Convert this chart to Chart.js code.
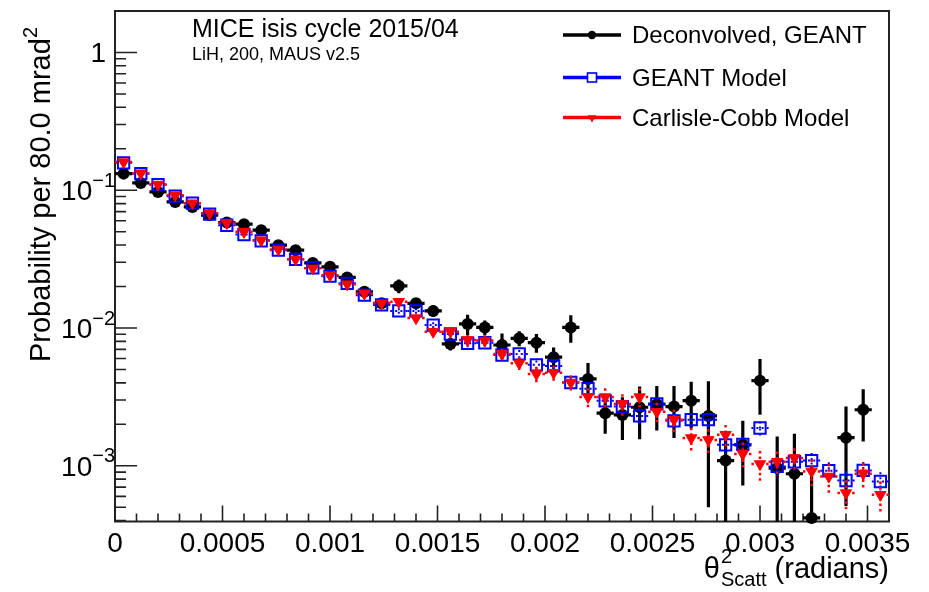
<!DOCTYPE html>
<html>
<head>
<meta charset="utf-8">
<title>MICE LiH scattering, theta^2 distribution</title>
<script src="https://cdn.jsdelivr.net/npm/chart.js@4.4.1/dist/chart.umd.min.js"></script>
<style>
  html, body { margin: 0; padding: 0; background: #ffffff; }
  canvas { display: block; }
</style>
</head>
<body>
<canvas id="chart" width="929" height="592"></canvas>
<script>
// theta^2 bin centres in rad^2 (80 mrad^2 bins)
const binCenters = [
  0.00004, 0.00012, 0.00020, 0.00028, 0.00036, 0.00044, 0.00052, 0.00060, 0.00068, 0.00076,
  0.00084, 0.00092, 0.00100, 0.00108, 0.00116, 0.00124, 0.00132, 0.00140, 0.00148, 0.00156,
  0.00164, 0.00172, 0.00180, 0.00188, 0.00196, 0.00204, 0.00212, 0.00220, 0.00228, 0.00236,
  0.00244, 0.00252, 0.00260, 0.00268, 0.00276, 0.00284, 0.00292, 0.00300, 0.00308, 0.00316,
  0.00324, 0.00332, 0.00340, 0.00348, 0.00356
];
const binHalfWidth = 0.00004;

// Deconvolved data (GEANT response)
const deconvolved = [
  0.132, 0.113, 0.0972, 0.0823, 0.0757, 0.0659, 0.0583, 0.0567, 0.0513, 0.0399,
  0.0367, 0.0297, 0.0278, 0.0233, 0.0183, 0.0151, 0.0202, 0.0151, 0.0133, 0.00766,
  0.0107, 0.0101, 0.00753, 0.00842, 0.00782, 0.00614, 0.0101, 0.00427, 0.00241, 0.00234,
  0.00266, 0.0028, 0.00269, 0.00297, 0.0023, 0.00109, 0.00142, 0.00415, 0.000962, 0.000875,
  0.000418, null, 0.0016, 0.00255, null
];
const deconvolvedErr = [
  0.003, 0.003, 0.003, 0.0025, 0.0025, 0.0025, 0.0025, 0.0025, 0.0025, 0.002,
  0.002, 0.0018, 0.0018, 0.0016, 0.0012, 0.0013, 0.0023, 0.0014, 0.0013, 0.0008,
  0.0018, 0.00126, 0.0016, 0.00105, 0.00121, 0.00107, 0.0023, 0.0013, 0.0007, 0.0008,
  0.0011, 0.001, 0.0011, 0.0011, 0.0018, 0.0007, 0.0007, 0.0018, 0.00067, 0.00083,
  0.00057, null, 0.00109, 0.00105, null
];

// GEANT model
const geantModel = [
  0.158, 0.132, 0.110, 0.0905, 0.0805, 0.0670, 0.0557, 0.0477, 0.0429, 0.0367,
  0.0315, 0.0273, 0.0238, 0.0211, 0.0173, 0.0147, 0.0133, 0.0133, 0.0105, 0.00905,
  0.00775, 0.00782, 0.00637, 0.00648, 0.0054, 0.00531, 0.00402, 0.00363, 0.00296, 0.00269,
  0.0023, 0.00281, 0.00212, 0.00216, 0.00216, 0.00142, 0.00143, 0.00188, 0.000989, 0.00107,
  0.00109, 0.00092, 0.000782, 0.000925, 0.000769
];
const geantModelErr = [
  0.002, 0.002, 0.0018, 0.0016, 0.0015, 0.0013, 0.0012, 0.0011, 0.001, 0.0009,
  0.0008, 0.0008, 0.0007, 0.0007, 0.0006, 0.0006, 0.0006, 0.0006, 0.0005, 0.0005,
  0.0005, 0.0005, 0.00045, 0.00045, 0.0004, 0.0004, 0.00035, 0.00035, 0.0003, 0.0003,
  0.0003, 0.0003, 0.00025, 0.00025, 0.00025, 0.0002, 0.0002, 0.00022, 0.00015, 0.00015,
  0.00015, 0.00014, 0.00013, 0.00014, 0.00013
];

// Carlisle-Cobb model
const carlisleCobb = [
  0.160, 0.133, 0.110, 0.092, 0.0805, 0.0681, 0.0579, 0.0499, 0.0434, 0.0372,
  0.0315, 0.0271, 0.0242, 0.0208, 0.0178, 0.0151, 0.0155, 0.0118, 0.0094, 0.0094,
  0.00819, 0.0081, 0.00648, 0.00555, 0.00464, 0.00474, 0.00402, 0.00316, 0.00315, 0.00281,
  0.00315, 0.00247, 0.00216, 0.00159, 0.00154, 0.00168, 0.00122, 0.00103, 0.00107, 0.00114,
  0.00091, 0.000836, 0.000634, 0.000875, 0.000616
];
const carlisleCobbErr = [
  0.002, 0.002, 0.0018, 0.0016, 0.0015, 0.0013, 0.0012, 0.0011, 0.001, 0.0009,
  0.0008, 0.0008, 0.0007, 0.0007, 0.0007, 0.0007, 0.0008, 0.0007, 0.0007, 0.0007,
  0.0007, 0.0007, 0.0006, 0.0006, 0.0006, 0.0006, 0.0005, 0.0005, 0.0005, 0.0005,
  0.0005, 0.0004, 0.0004, 0.0003, 0.0003, 0.0003, 0.00025, 0.00025, 0.0002, 0.0002,
  0.0002, 0.0002, 0.00015, 0.00018, 0.00015
];

// Axis ticks and labels
const xMajorTicks = [0, 0.0005, 0.001, 0.0015, 0.002, 0.0025, 0.003, 0.0035];
const xTickLabels = ['0', '0.0005', '0.001', '0.0015', '0.002', '0.0025', '0.003', '0.0035'];
const yMajorTicks = [1, 0.1, 0.01, 0.001];
const yTickBase = ['1', '10', '10', '10'];
const yTickExp = ['', '\u22121', '\u22122', '\u22123'];

const FONT = '"Liberation Sans", Arial, Helvetica, sans-serif';

function points(values) {
  return binCenters.map((x, i) => ({ x: x, y: values[i] }));
}

// Draw one error segment from its outer end back towards the marker,
// so dotted styles always start with a dot at the tip.
function seg(ctx, x1, y1, x2, y2) {
  ctx.beginPath();
  ctx.moveTo(x1, y1);
  ctx.lineTo(x2, y2);
  ctx.stroke();
}

function drawErrorBars(chart, index) {
  const ds = chart.data.datasets[index];
  const xs = chart.scales.x, ys = chart.scales.y, a = chart.chartArea;
  const ctx = chart.ctx;
  ctx.save();
  ctx.beginPath();
  ctx.rect(a.left, a.top, a.right - a.left, a.bottom - a.top);
  ctx.clip();
  ctx.strokeStyle = ds.errColor;
  ctx.lineWidth = ds.errWidth;
  ctx.setLineDash(ds.errDash);
  ctx.lineCap = 'butt';
  ds.data.forEach((p, i) => {
    if (p.y == null) return;
    const e = ds.errors[i] || 0;
    const px = xs.getPixelForValue(p.x);
    const py = ys.getPixelForValue(p.y);
    const xl = xs.getPixelForValue(p.x - binHalfWidth);
    const xr = xs.getPixelForValue(p.x + binHalfWidth);
    seg(ctx, xl, py, px, py);
    seg(ctx, xr, py, px, py);
    if (e > 0) {
      const yHi = ys.getPixelForValue(p.y + e);
      const lo = p.y - e;
      const yLo = lo > 0 ? ys.getPixelForValue(lo) : a.bottom + 20;
      seg(ctx, px, yHi, px, py);
      seg(ctx, px, yLo, px, py);
    }
  });
  ctx.restore();
}

function drawFrame(chart) {
  const ctx = chart.ctx, a = chart.chartArea;
  const xs = chart.scales.x, ys = chart.scales.y;
  ctx.save();
  ctx.strokeStyle = '#222';
  ctx.lineWidth = 2;
  ctx.strokeRect(a.left, a.top, a.right - a.left, a.bottom - a.top);

  // x ticks: major every 0.0005, minor every 0.0001, pointing inwards
  ctx.lineWidth = 1.6;
  ctx.beginPath();
  for (let i = 0; i < 36; i++) {
    const px = xs.getPixelForValue(i * 0.0001);
    const len = (i % 5 === 0) ? 16 : 8;
    ctx.moveTo(px, a.bottom);
    ctx.lineTo(px, a.bottom - len);
  }
  // y ticks: decades long, 2..9 short
  for (let d = -4; d <= 0; d++) {
    for (let m = 1; m <= 9; m++) {
      const v = m * Math.pow(10, d);
      if (v < ys.min || v > ys.max * 0.999) continue;
      const py = ys.getPixelForValue(v);
      const len = (m === 1) ? 22 : 11;
      ctx.moveTo(a.left, py);
      ctx.lineTo(a.left + len, py);
    }
  }
  ctx.stroke();
  ctx.restore();
}

function drawAxisText(chart) {
  const ctx = chart.ctx, a = chart.chartArea;
  const xs = chart.scales.x, ys = chart.scales.y;
  ctx.save();
  ctx.fillStyle = '#000';
  ctx.textBaseline = 'alphabetic';

  // x tick labels
  ctx.font = '28px ' + FONT;
  ctx.textAlign = 'center';
  xMajorTicks.forEach((v, i) => {
    ctx.fillText(xTickLabels[i], xs.getPixelForValue(v), 552);
  });

  // y tick labels (powers of ten)
  yMajorTicks.forEach((v, i) => {
    const py = ys.getPixelForValue(v);
    ctx.textAlign = 'right';
    if (!yTickExp[i]) {
      ctx.font = '28px ' + FONT;
      ctx.fillText(yTickBase[i], 106, py + 10);
    } else {
      ctx.font = '20px ' + FONT;
      const we = ctx.measureText(yTickExp[i]).width;
      ctx.fillText(yTickExp[i], 115, py - 3.5);
      ctx.font = '28px ' + FONT;
      ctx.fillText(yTickBase[i], 115 - we, py + 10);
    }
  });

  // y title, rotated, right-aligned to the top of the frame
  ctx.save();
  ctx.translate(50, 27);
  ctx.rotate(-Math.PI / 2);
  ctx.textAlign = 'right';
  ctx.font = '20px ' + FONT;
  const ws = ctx.measureText('2').width;
  ctx.fillText('2', 0, -13);
  ctx.font = '29px ' + FONT;
  ctx.fillText('Probability per 80.0 mrad', -ws, 0);
  ctx.restore();

  // x title: theta^2_Scatt (radians), right-aligned to the frame edge
  const base = 578;
  ctx.textAlign = 'left';
  ctx.font = '29px ' + FONT;
  const wTail = ctx.measureText(' (radians)').width;
  const wTheta = ctx.measureText('\u03b8').width;
  ctx.font = '20px ' + FONT;
  const wSub = ctx.measureText('Scatt').width;
  const x0 = a.right - wTail - wSub - wTheta - 1;
  ctx.font = '29px ' + FONT;
  ctx.fillText('\u03b8', x0, base);
  ctx.font = '20px ' + FONT;
  ctx.fillText('2', x0 + wTheta + 1, base - 15);
  ctx.fillText('Scatt', x0 + wTheta + 1, base + 8);
  ctx.font = '29px ' + FONT;
  ctx.fillText(' (radians)', x0 + wTheta + 1 + wSub, base);
  ctx.restore();
}

function drawLegendAndHeader(chart) {
  const ctx = chart.ctx;
  ctx.save();
  ctx.fillStyle = '#000';
  ctx.textAlign = 'left';
  ctx.textBaseline = 'alphabetic';
  ctx.font = '25px ' + FONT;
  ctx.fillText('MICE isis cycle 2015/04', 192, 36.5);
  ctx.font = '18px ' + FONT;
  ctx.fillText('LiH, 200, MAUS v2.5', 192, 60);

  const rows = [35, 77.5, 117.5];
  chart.data.datasets.slice().sort((p, q) => q.order - p.order).forEach((ds, i) => {
    const y = rows[i];
    ctx.strokeStyle = ds.errColor;
    ctx.fillStyle = ds.errColor;
    ctx.setLineDash([]);
    ctx.lineWidth = 3.3;
    ctx.beginPath();
    ctx.moveTo(563, y);
    ctx.lineTo(621, y);
    ctx.stroke();
    const cx = 592;
    if (ds.pointStyle === 'circle') {
      ctx.beginPath();
      ctx.arc(cx, y, 4.2, 0, Math.PI * 2);
      ctx.fill();
    } else if (ds.pointStyle === 'rect') {
      ctx.fillStyle = '#fff';
      ctx.fillRect(cx - 4.5, y - 4.5, 9, 9);
      ctx.lineWidth = 1.6;
      ctx.strokeRect(cx - 4.5, y - 4.5, 9, 9);
    } else {
      ctx.beginPath();
      ctx.moveTo(cx - 4.3, y - 2.2);
      ctx.lineTo(cx + 4.3, y - 2.2);
      ctx.lineTo(cx, y + 5);
      ctx.closePath();
      ctx.fill();
    }
    ctx.fillStyle = '#000';
    ctx.font = '24px ' + FONT;
    ctx.fillText(ds.label, 632, y + 8.3);
  });
  ctx.restore();
}

const rootStyle = {
  id: 'rootStyle',
  beforeDraw(chart) {
    const ctx = chart.ctx;
    ctx.save();
    ctx.fillStyle = '#fff';
    ctx.fillRect(0, 0, chart.width, chart.height);
    ctx.restore();
  },
  beforeDatasetsDraw(chart) { drawFrame(chart); },
  beforeDatasetDraw(chart, args) { drawErrorBars(chart, args.index); },
  afterDraw(chart) {
    drawAxisText(chart);
    drawLegendAndHeader(chart);
  }
};

new Chart(document.getElementById('chart'), {
  type: 'scatter',
  data: {
    datasets: [
      {
        label: 'Deconvolved, GEANT',
        data: points(deconvolved),
        errors: deconvolvedErr,
        errColor: '#000000', errWidth: 3.2, errDash: [],
        pointStyle: 'circle', pointRadius: 6,
        pointBackgroundColor: '#000000', pointBorderColor: '#000000', pointBorderWidth: 0,
        showLine: false, clip: false, order: 2
      },
      {
        label: 'GEANT Model',
        data: points(geantModel),
        errors: geantModelErr,
        errColor: '#0000ff', errWidth: 2, errDash: [2, 3],
        pointStyle: 'rect', pointRadius: 8,
        pointBackgroundColor: 'rgba(0,0,0,0)', pointBorderColor: '#0000ff', pointBorderWidth: 2,
        showLine: false, clip: false, order: 1
      },
      {
        label: 'Carlisle-Cobb Model',
        data: points(carlisleCobb),
        errors: carlisleCobbErr,
        errColor: '#ff0000', errWidth: 2.5, errDash: [2.5, 3],
        pointStyle: 'triangle', pointRotation: 180, pointRadius: 6.5,
        pointBackgroundColor: '#ff0000', pointBorderColor: '#ff0000', pointBorderWidth: 1,
        showLine: false, clip: false, order: 0
      }
    ]
  },
  options: {
    responsive: false,
    animation: false,
    devicePixelRatio: 1,
    events: [],
    layout: { padding: { left: 0, right: 40, top: 11, bottom: 0 } },
    plugins: { legend: { display: false }, tooltip: { enabled: false } },
    scales: {
      x: {
        type: 'linear', min: 0, max: 0.0036, bounds: 'data',
        grid: { display: false }, border: { display: false },
        ticks: { display: false },
        afterFit(s) { s.height = 70.5; }
      },
      y: {
        type: 'logarithmic', min: 3.94e-4, max: 2.0, bounds: 'data',
        grid: { display: false }, border: { display: false },
        ticks: { display: false },
        afterFit(s) { s.width = 115; }
      }
    }
  },
  plugins: [rootStyle]
});
</script>
</body>
</html>
